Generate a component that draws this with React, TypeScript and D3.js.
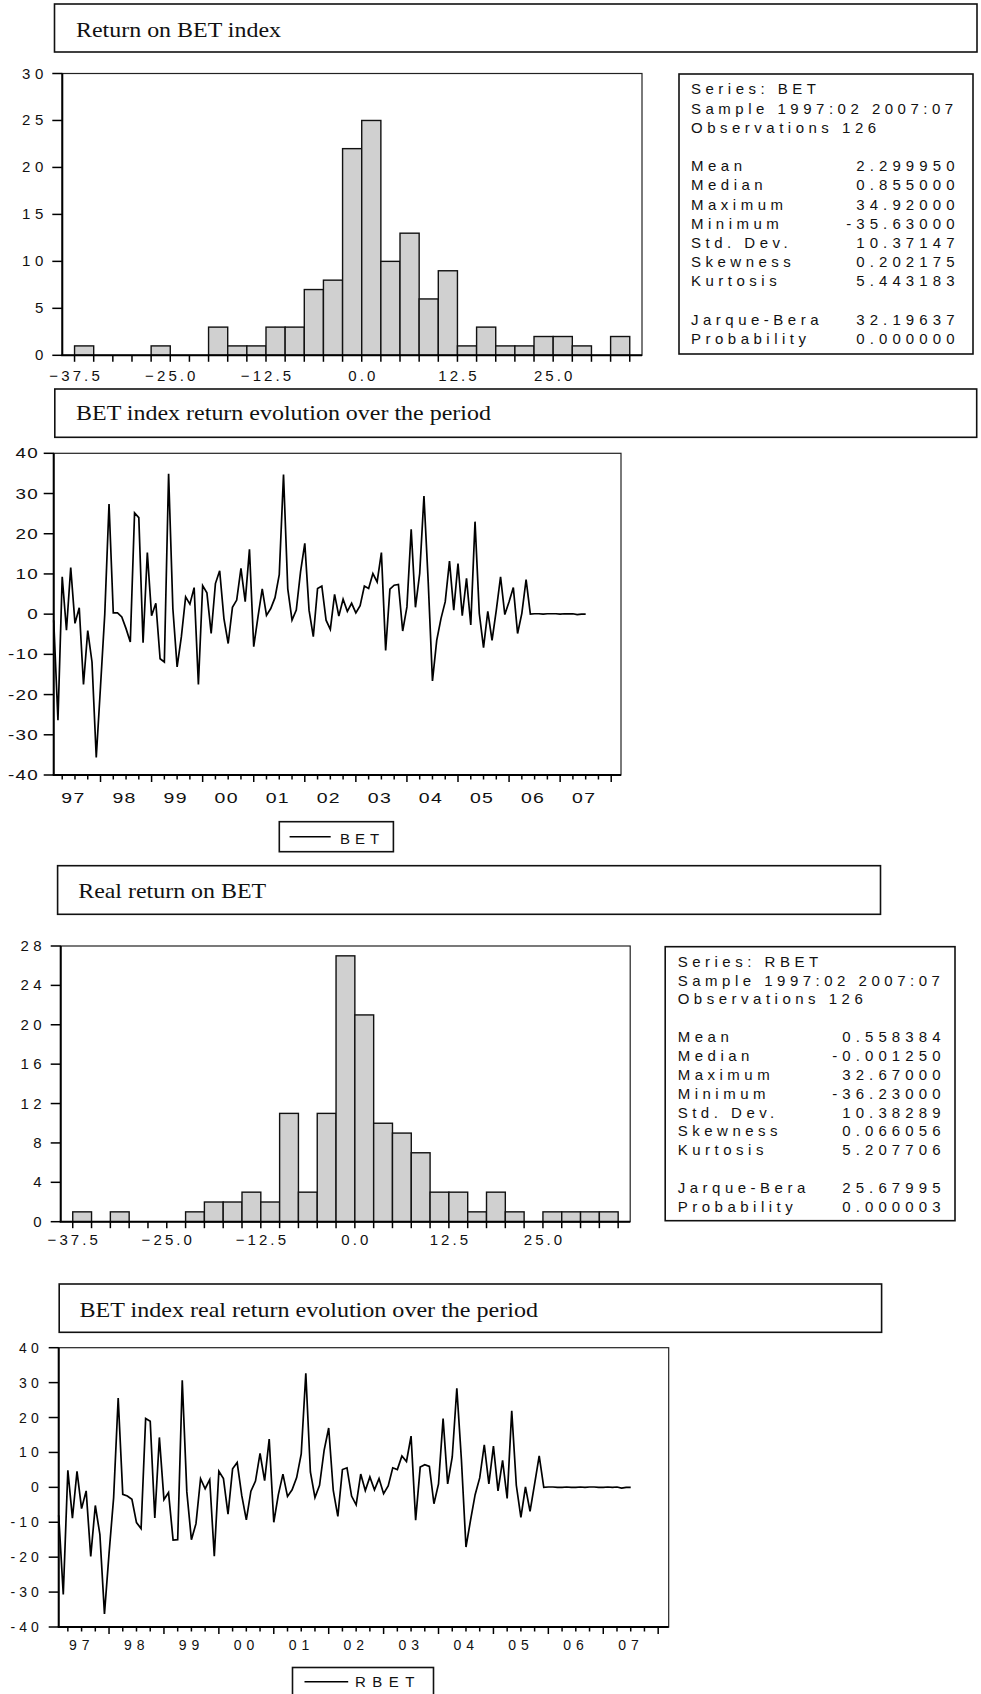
import React from "react";
import * as d3 from "d3";

// ---------- DATA ----------
const binLowers = [-37.5, -35, -32.5, -30, -27.5, -25, -22.5, -20, -17.5, -15, -12.5, -10, -7.5, -5, -2.5, 0, 2.5, 5, 7.5, 10, 12.5, 15, 17.5, 20, 22.5, 25, 27.5, 30, 32.5];
const betCounts = [1, 0, 0, 0, 1, 0, 0, 3, 1, 1, 3, 3, 7, 8, 22, 25, 10, 13, 6, 9, 1, 3, 1, 1, 2, 2, 1, 0, 2];
const rbetCounts = [1, 0, 1, 0, 0, 0, 1, 2, 2, 3, 2, 11, 3, 11, 27, 21, 10, 9, 7, 3, 3, 1, 3, 1, 0, 1, 1, 1, 1];
const histXLabels = [-37.5, -25, -12.5, 0, 12.5, 25];
const betHistYTicks = [0, 5, 10, 15, 20, 25, 30];
const rbetHistYTicks = [0, 4, 8, 12, 16, 20, 24, 28];

const statHeader = ["Sample 1997:02 2007:07", "Observations 126"];
const statLabels = ["Mean", "Median", "Maximum", "Minimum", "Std. Dev.", "Skewness", "Kurtosis"];
const testLabels = ["Jarque-Bera", "Probability"];
const betStats = ["2.299950", "0.855000", "34.92000", "-35.63000", "10.37147", "0.202175", "5.443183"];
const betTests = ["32.19637", "0.000000"];
const rbetStats = ["0.558384", "-0.001250", "32.67000", "-36.23000", "10.38289", "0.066056", "5.207706"];
const rbetTests = ["25.67995", "0.000003"];

// monthly returns, 1997:02 .. 2007:07 (126 obs)
const betReturns = [
  -1.5, -26.4, 9.3, -4.0, 11.6, -2.3, 1.6, -17.5, -4.1, -11.9, -35.63, -18, 0, 27.4, 0.3, 0.3, -0.7, -3.6, -6.9, 25.2,
  24.0, -7.1, 15.3, -0.4, 2.7, -11.1, -11.9, 34.92, 1.4, -13.1, -5.6, 4.3, 2.5, 6.6, -17.5, 7.1, 5.3, -4.8, 7.6, 10.8,
  -1.1, -7.3, 1.7, 3.5, 11.4, 3.1, 16.1, -8.1, -0.7, 6.3, -0.3, 1.4, 4.1, 9.8, 34.7, 6.3, -1.5, 1.0, 10.5, 17.6,
  1.0, -5.6, 6.4, 7.0, -1.5, -3.8, 4.9, -0.5, 3.7, 0.7, 2.7, 0.3, 2.1, 7.0, 6.4, 10.1, 8.0, 15.3, -9.0, 6.2,
  7.2, 7.4, -4.2, 1.8, 21.1, 1.7, 10.1, 29.4, 8.0, -16.6, -6.5, -1.1, 3.1, 13.2, 1.0, 12.6, -0.4, 8.9, -2.7, 23.0,
  0.2, -8.3, 0.7, -6.5, 1.0, 9.3, -0.1, 3.1, 6.6, -4.8, 0.2, 8.6, 0.0, 0.1, 0.1, 0.0, 0.1, 0.1, 0.1, 0.0,
  0.1, 0.05, 0.1, -0.1, 0.0, 0.0,
];
const rbetReturns = [
  -8.0, -30.7, 4.9, -8.8, 4.6, -6.1, -1.0, -19.8, -5.2, -13.5, -36.23, -19, -3, 25.6, -2.0, -2.5, -3.4, -10.1, -11.8, 19.7,
  18.9, -8.8, 14.3, -3.5, -1.5, -15.1, -15.0, 30.7, -1.3, -15.0, -10.4, 2.5, -0.4, 2.2, -19.7, 4.6, 2.5, -7.7, 5.3, 7.1,
  -2.3, -9.3, -1.1, 1.8, 9.7, 1.9, 13.8, -10.0, -2.1, 3.8, -2.6, -0.7, 2.8, 9.6, 32.67, 4.4, -2.9, 0.6, 10.6, 17.0,
  -0.9, -8.3, 5.1, 5.6, -2.5, -5.0, 3.8, -0.9, 3.0, -0.7, 2.5, -1.8, 0.4, 5.6, 5.1, 9.0, 7.4, 14.7, -9.4, 5.8,
  6.5, 6.0, -4.7, 1.0, 19.7, 1.0, 8.7, 28.4, 8.0, -17.1, -9.4, -2.1, 2.7, 12.2, 1.0, 11.8, -1.0, 7.7, -3.2, 21.9,
  0.6, -8.6, 0.1, -6.9, 1.0, 9.0, 0.0, 0.1, 0.1, 0.0, 0.0, 0.1, 0.0, 0.0, 0.1, 0.0, 0.1, 0.1, 0.0, 0.0,
  0.1, 0.0, 0.1, -0.2, 0.0, 0.0,
];
const yearLabels = ["97", "98", "99", "00", "01", "02", "03", "04", "05", "06", "07"];
const lineYTicks = [40, 30, 20, 10, 0, -10, -20, -30, -40];

// ---------- STYLE ----------
const SANS = "'Liberation Sans', Arial, Helvetica, sans-serif";
const SERIF = "'Liberation Serif', 'Times New Roman', serif";

type TAnchor = "start" | "middle" | "end";
function SText(p: { x: number; y: number; t: string; anchor?: TAnchor; size?: number; ls?: number; sx?: number }) {
  const ls = p.ls ?? 4.5;
  const anchor = p.anchor ?? "start";
  const sx = p.sx ?? 1;
  const dx = anchor === "end" ? ls * sx : anchor === "middle" ? (ls * sx) / 2 : 0;
  return (
    <text
      transform={`translate(${p.x + dx},${p.y}) scale(${sx},1)`}
      fontFamily={SANS}
      fontSize={p.size ?? 15}
      letterSpacing={ls}
      textAnchor={anchor}
      fill="#111"
    >
      {p.t}
    </text>
  );
}

function TitleBox(p: { x0: number; y0: number; x1: number; y1: number; text: string; tx: number; ty: number; tw: number }) {
  return (
    <g>
      <rect x={p.x0} y={p.y0} width={p.x1 - p.x0} height={p.y1 - p.y0} fill="white" stroke="#111" strokeWidth={1.6} />
      <text x={p.tx} y={p.ty} fontFamily={SERIF} fontSize={21} textLength={p.tw} lengthAdjust="spacingAndGlyphs" fill="#111">
        {p.text}
      </text>
    </g>
  );
}

function StatsBox(p: { x0: number; y0: number; x1: number; y1: number; tl: number; tr: number; first: number; step: number; series: string; vals: string[]; tests: string[] }) {
  const rows: React.ReactNode[] = [];
  const by = (r: number) => p.y0 + p.first + r * p.step;
  rows.push(<SText key="s" x={p.tl} y={by(0)} t={"Series: " + p.series} />);
  statHeader.forEach((h, i) => rows.push(<SText key={"h" + i} x={p.tl} y={by(i + 1)} t={h} />));
  statLabels.forEach((l, i) => {
    rows.push(<SText key={"l" + i} x={p.tl} y={by(i + 4)} t={l} />);
    rows.push(<SText key={"v" + i} x={p.tr} y={by(i + 4)} t={p.vals[i]} anchor="end" ls={5.1} />);
  });
  testLabels.forEach((l, i) => {
    rows.push(<SText key={"tl" + i} x={p.tl} y={by(i + 12)} t={l} />);
    rows.push(<SText key={"tv" + i} x={p.tr} y={by(i + 12)} t={p.tests[i]} anchor="end" ls={5.1} />);
  });
  return (
    <g>
      <rect x={p.x0} y={p.y0} width={p.x1 - p.x0} height={p.y1 - p.y0} fill="white" stroke="#111" strokeWidth={1.6} />
      {rows}
    </g>
  );
}

function Histogram(p: { left: number; right: number; top: number; bottom: number; counts: number[]; yMax: number; yTicks: number[]; labelBase: number }) {
  const x = d3.scaleLinear().domain([-39.1, 36.6]).range([p.left, p.right]);
  const y = d3.scaleLinear().domain([0, p.yMax]).range([p.bottom, p.top]);
  const edges = [...binLowers, 35];
  const fmt = d3.format(".1f");
  return (
    <g>
      <rect x={p.left} y={p.top} width={p.right - p.left} height={p.bottom - p.top} fill="white" stroke="#222" strokeWidth={1.2} />
      {binLowers.map((lo, i) =>
        p.counts[i] > 0 ? (
          <rect key={i} x={x(lo)} y={y(p.counts[i])} width={x(lo + 2.5) - x(lo)} height={y(0) - y(p.counts[i])} fill="#d0d0d0" stroke="#111" strokeWidth={1.4} />
        ) : null
      )}
      <line x1={p.left} x2={p.left} y1={p.top} y2={p.bottom} stroke="#000" strokeWidth={2} />
      <line x1={p.left - 1} x2={p.right} y1={p.bottom} y2={p.bottom} stroke="#000" strokeWidth={2} />
      {edges.map((e, i) => (
        <line key={i} x1={x(e)} x2={x(e)} y1={p.bottom} y2={p.bottom + 6.5} stroke="#000" strokeWidth={1.5} />
      ))}
      {histXLabels.map((v) => (
        <SText key={v} x={x(v)} y={p.labelBase} t={fmt(v)} anchor="middle" ls={3.1} />
      ))}
      {p.yTicks.map((v) => (
        <g key={v}>
          <line x1={p.left - 10} x2={p.left} y1={y(v)} y2={y(v)} stroke="#000" strokeWidth={1.5} />
          <SText x={p.left - 19} y={y(v) + 5} t={String(v)} anchor="end" ls={4.5} />
        </g>
      ))}
    </g>
  );
}

function LineChart(p: {
  left: number; right: number; top: number; bottom: number; values: number[];
  ySize: number; yLs: number; ySx: number; yGap: number; xSize: number; xLs: number; xSx: number; xLabelBase: number;
}) {
  const x = d3.scaleLinear().domain([0, 133.3]).range([p.left, p.right]);
  const y = d3.scaleLinear().domain([-40, 40]).range([p.bottom, p.top]);
  const line = d3.line<number>().x((_, i) => x(i)).y((d) => y(d));
  const major = d3.range(11, 134, 12);
  const minor = d3.range(2, 134, 3).filter((m) => (m - 11) % 12 !== 0);
  return (
    <g>
      <rect x={p.left} y={p.top} width={p.right - p.left} height={p.bottom - p.top} fill="white" stroke="#222" strokeWidth={1.2} />
      <path d={line(p.values) ?? ""} fill="none" stroke="#000" strokeWidth={1.7} strokeLinejoin="miter" />
      <line x1={p.left} x2={p.left} y1={p.top} y2={p.bottom} stroke="#000" strokeWidth={2} />
      <line x1={p.left - 1} x2={p.right} y1={p.bottom} y2={p.bottom} stroke="#000" strokeWidth={2} />
      {major.map((m) => (
        <line key={"M" + m} x1={x(m)} x2={x(m)} y1={p.bottom} y2={p.bottom + 7} stroke="#000" strokeWidth={1.5} />
      ))}
      {minor.map((m) => (
        <line key={"m" + m} x1={x(m)} x2={x(m)} y1={p.bottom} y2={p.bottom + 4.5} stroke="#000" strokeWidth={1.5} />
      ))}
      {yearLabels.map((l, k) => (
        <SText key={l} x={x(4.5 + 12 * k)} y={p.xLabelBase} t={l} anchor="middle" size={p.xSize} ls={p.xLs} sx={p.xSx} />
      ))}
      {lineYTicks.map((v) => (
        <g key={v}>
          <line x1={p.left - 10} x2={p.left} y1={y(v)} y2={y(v)} stroke="#000" strokeWidth={1.5} />
          <SText x={p.left - p.yGap} y={y(v) + 5} t={String(v)} anchor="end" size={p.ySize} ls={p.yLs} sx={p.ySx} />
        </g>
      ))}
    </g>
  );
}

function Legend(p: { x0: number; y0: number; x1: number; y1: number; l0: number; l1: number; ly: number; tx: number; ty: number; name: string; ls: number }) {
  return (
    <g>
      <rect x={p.x0} y={p.y0} width={p.x1 - p.x0} height={p.y1 - p.y0} fill="white" stroke="#111" strokeWidth={1.6} />
      <line x1={p.l0} x2={p.l1} y1={p.ly} y2={p.ly} stroke="#000" strokeWidth={1.5} />
      <SText x={p.tx} y={p.ty} t={p.name} ls={p.ls} />
    </g>
  );
}

export default function App() {
  return (
    <div style={{ position: "absolute", left: 0, top: 0 }}>
      <svg width={981} height={1694} viewBox="0 0 981 1694" style={{ display: "block", background: "white" }}>
        <rect x={0} y={0} width={981} height={1694} fill="white" />
        {/* Panel 1: histogram BET */}
        <TitleBox x0={54.5} y0={4} x1={977} y1={52} text="Return on BET index" tx={76} ty={36.5} tw={205} />
        <Histogram left={62.3} right={642} top={73.5} bottom={355.3} counts={betCounts} yMax={30} yTicks={betHistYTicks} labelBase={381} />
        <StatsBox x0={679} y0={74} x1={973} y1={354} tl={691} tr={954.5} first={20.3} step={19.2} series="BET" vals={betStats} tests={betTests} />

        {/* Panel 2: BET line */}
        <TitleBox x0={54.8} y0={389} x1={976.7} y1={437.3} text="BET index return evolution over the period" tx={76} ty={420} tw={415} />
        <LineChart left={53.7} right={621} top={453.3} bottom={775} values={betReturns}
          ySize={14.5} yLs={1} ySx={1.3} yGap={16} xSize={15} xLs={1} xSx={1.3} xLabelBase={803} />
        <Legend x0={279.3} y0={821.7} x1={393.4} y1={851.7} l0={289.6} l1={330.7} ly={836.7} tx={340} ty={843.5} name="BET" ls={5} />

        {/* Panel 3: histogram RBET */}
        <TitleBox x0={57.6} y0={865.7} x1={880.5} y1={914.3} text="Real return on BET" tx={78.2} ty={898.3} tw={188} />
        <Histogram left={60.7} right={630.2} top={946} bottom={1221.7} counts={rbetCounts} yMax={28} yTicks={rbetHistYTicks} labelBase={1245} />
        <StatsBox x0={665.2} y0={946.7} x1={955} y1={1220.7} tl={677.7} tr={940.5} first={20} step={18.85} series="RBET" vals={rbetStats} tests={rbetTests} />

        {/* Panel 4: RBET line */}
        <TitleBox x0={59.2} y0={1284} x1={881.6} y1={1332.3} text="BET index real return evolution over the period" tx={79.5} ty={1316.7} tw={458.5} />
        <LineChart left={58.7} right={668.7} top={1347.7} bottom={1627} values={rbetReturns}
          ySize={14} yLs={4} ySx={1} yGap={20} xSize={14} xLs={5} xSx={1} xLabelBase={1650} />
        <Legend x0={292.5} y0={1667.5} x1={433.5} y1={1700} l0={304.5} l1={348.2} ly={1681.7} tx={355} ty={1687} name="RBET" ls={6.5} />
      </svg>
    </div>
  );
}
